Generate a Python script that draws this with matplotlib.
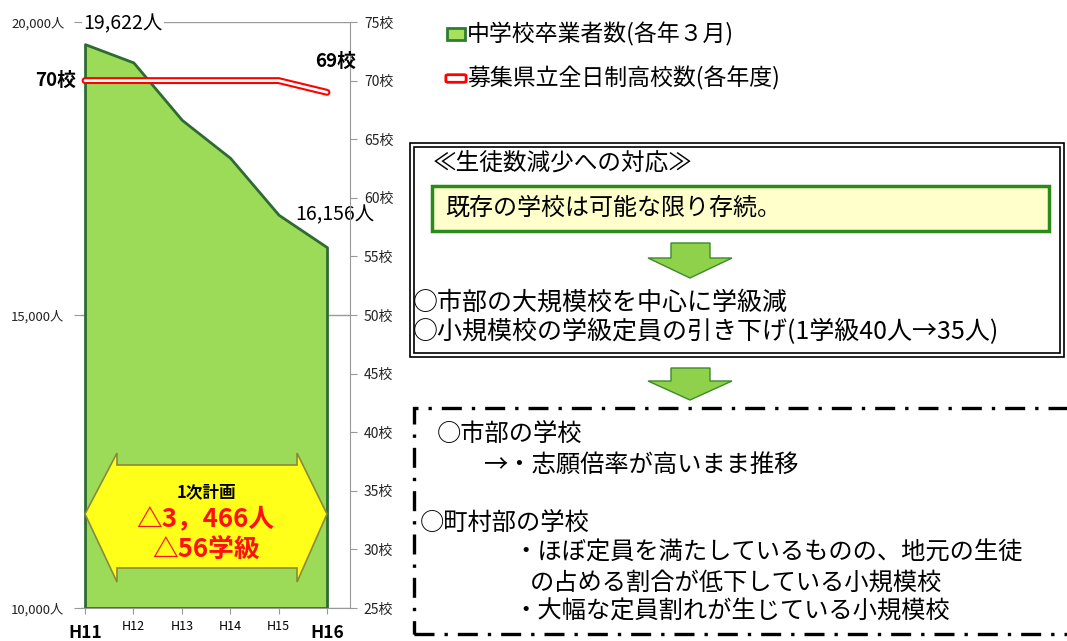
import matplotlib.pyplot as plt
from matplotlib.patches import Rectangle, Polygon, FancyBboxPatch

plt.rcParams['font.family'] = ['Noto Sans CJK JP', 'DejaVu Sans']

# 中学校卒業者数と募集校数
years = ['H11', 'H12', 'H13', 'H14', 'H15', 'H16']
students = [19622, 19310, 18330, 17680, 16710, 16156]
schools = [70, 70, 70, 70, 70, 69]

W, H = 1067, 641


def fx(px):
    return px / W


def fy(py):
    return 1 - py / H


fig = plt.figure(figsize=(W / 100, H / 100), dpi=100)

# --- 左のグラフ ---
ax = fig.add_axes([fx(81), fy(608), fx(350) - fx(81), fy(22) - fy(608)])
x = list(range(len(years)))
ax.fill_between(x, students, 10000, facecolor='#9cdb58', edgecolor='#2f6a33', lw=2, zorder=2)
ax.set_xlim(-0.083, 5.475)
ax.set_ylim(10000, 20000)
ax.set_yticks([10000, 15000, 20000])
ax.set_yticklabels([f"{v:,}人" for v in [10000, 15000, 20000]], fontsize=9.5, color='#222222')
ax.yaxis.grid(True, color='#999999', lw=1)
ax.set_axisbelow(True)
for s in ['left', 'top', 'right']:
    ax.spines[s].set_visible(False)
ax.spines['bottom'].set_color('#999999')
ax.tick_params(axis='y', length=5, color='#999999', pad=7)
ax.tick_params(axis='x', length=4, color='#999999', pad=5)
ax.set_xticks(x)
ax.set_xticklabels(years, fontsize=9)
for i, t in enumerate(ax.get_xticklabels()):
    if i in (0, len(years) - 1):
        t.set_fontsize(12.5)
        t.set_fontweight('bold')
        t.set_y(-0.006)

ax2 = ax.twinx()
ax2.set_ylim(25, 75)
ax2.set_yticks(range(25, 80, 5))
ax2.set_yticklabels([f"{v}校" for v in range(25, 80, 5)], fontsize=10, color='#222222')
for s in ['left', 'top', 'bottom']:
    ax2.spines[s].set_visible(False)
ax2.spines['right'].set_color('#999999')
ax2.tick_params(axis='y', length=5, color='#999999', pad=5)
ax2.plot(x, schools, color='red', lw=5, solid_capstyle='round', solid_joinstyle='miter', zorder=3)
ax2.plot(x, schools, color='white', lw=2, solid_capstyle='round', solid_joinstyle='miter', zorder=4)

# 値ラベル
ax.annotate(f"{students[0]:,}人", xy=(0, students[0]), xytext=(-2, 20), textcoords='offset pixels',
            ha='left', va='center', fontsize=14, bbox=dict(fc='white', ec='none', pad=1), zorder=5)
ax.annotate(f"{students[-1]:,}人", xy=(5, students[-1]), xytext=(8, 32), textcoords='offset pixels',
            ha='center', va='center', fontsize=14, zorder=5)
ax2.annotate(f"{schools[0]}校", xy=(0, schools[0]), xytext=(-9, 0), textcoords='offset pixels',
             ha='right', va='center', fontsize=13.5, fontweight='bold', annotation_clip=False)
ax2.annotate(f"{schools[-1]}校", xy=(5, schools[-1]), xytext=(9, 31), textcoords='offset pixels',
             ha='center', va='center', fontsize=13.5, fontweight='bold')

# 黄色の両矢印
arrow = Polygon([(fx(85), fy(514)), (fx(117), fy(453)), (fx(117), fy(465)), (fx(297), fy(465)),
                 (fx(297), fy(453)), (fx(327), fy(514)), (fx(297), fy(582)), (fx(297), fy(568)),
                 (fx(117), fy(568)), (fx(117), fy(582))],
                closed=True, transform=fig.transFigure, facecolor='#ffff1a', edgecolor='#8a8a3a',
                lw=1.2, zorder=10)
fig.patches.append(arrow)
fig.text(fx(206), fy(492), "1次計画", fontsize=12, fontweight='bold', ha='center', va='center', zorder=11)
fig.text(fx(205), fy(519), "△3，466人", fontsize=18.5, fontweight='bold', color='#ff1010',
         ha='center', va='center', zorder=11)
fig.text(fx(206), fy(549), "△56学級", fontsize=18.5, fontweight='bold', color='#ff1010',
         ha='center', va='center', zorder=11)

# --- 凡例 ---
fig.patches.append(Rectangle((fx(447), fy(40)), fx(18), fy(28) - fy(40), transform=fig.transFigure,
                             facecolor='#a6e05c', edgecolor='#2e7d32', lw=2))
fig.patches.append(FancyBboxPatch((fx(448), fy(81)), fx(16), fy(76) - fy(81), transform=fig.transFigure,
                                  boxstyle='round,pad=0.002', facecolor='white', edgecolor='red', lw=2))
fig.text(fx(467), fy(34), "中学校卒業者数(各年３月)", fontsize=16.5, va='center')
fig.text(fx(467), fy(78), "募集県立全日制高校数(各年度)", fontsize=16.5, va='center')

# --- 右の説明 ---
fig.patches.append(Rectangle((fx(410), fy(357)), fx(1064) - fx(410), fy(143) - fy(357),
                             transform=fig.transFigure, fill=False, edgecolor='black', lw=1.2))
fig.patches.append(Rectangle((fx(414), fy(353)), fx(1060) - fx(414), fy(147) - fy(353),
                             transform=fig.transFigure, fill=False, edgecolor='black', lw=1.2))
fig.text(fx(433), fy(163), "≪生徒数減少への対応≫", fontsize=17, va='center')
fig.patches.append(Rectangle((fx(432), fy(231)), fx(1049) - fx(432), fy(186) - fy(231),
                             transform=fig.transFigure, facecolor='#ffffcc', edgecolor='#2a8a1c', lw=2.5))
fig.text(fx(445), fy(208), "既存の学校は可能な限り存続。", fontsize=17.3, va='center')


def down_arrow(top, shaft, tip):
    pts = [(671, top), (710, top), (710, shaft), (732, shaft), (690, tip),
           (648, shaft), (671, shaft)]
    fig.patches.append(Polygon([(fx(a), fy(b)) for a, b in pts], closed=True, transform=fig.transFigure,
                               facecolor='#8fd14a', edgecolor='#3d8a2a', lw=1))


down_arrow(243, 258, 278)
down_arrow(368, 381, 400)

fig.text(fx(413), fy(303), "○市部の大規模校を中心に学級減", fontsize=18, va='center')
fig.text(fx(413), fy(332), "○小規模校の学級定員の引き下げ(1学級40人→35人)", fontsize=18, va='center')

fig.patches.append(Rectangle((fx(414), fy(634)), fx(1075) - fx(414), fy(408) - fy(634),
                             transform=fig.transFigure, fill=False, edgecolor='black', lw=2.4,
                             linestyle=(0, (6, 3, 1, 3))))
fig.text(fx(437), fy(434), "○市部の学校", fontsize=17.5, va='center')
fig.text(fx(483), fy(465), "→・志願倍率が高いまま推移", fontsize=17.5, va='center')
fig.text(fx(420), fy(523), "○町村部の学校", fontsize=17.5, va='center')
fig.text(fx(513), fy(553), "・ほぼ定員を満たしているものの、地元の生徒", fontsize=17.5, va='center')
fig.text(fx(530), fy(583), "の占める割合が低下している小規模校", fontsize=17.5, va='center')
fig.text(fx(513), fy(612), "・大幅な定員割れが生じている小規模校", fontsize=17.5, va='center')

fig.savefig("out.png", dpi=100)
